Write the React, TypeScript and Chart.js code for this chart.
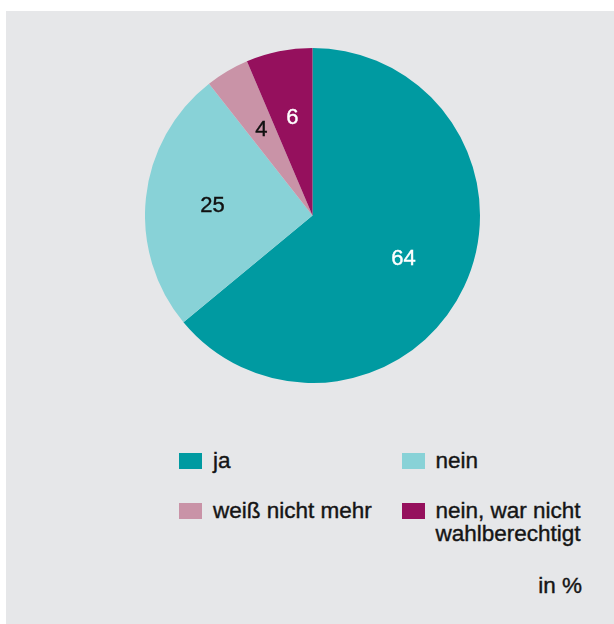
import React, { useEffect, useRef } from "react";
import { Chart, registerables } from "chart.js";

Chart.register(...registerables);

const categories = ["ja", "nein", "weiß nicht mehr", "nein, war nicht wahlberechtigt"];
const legendLabels = ["ja", "nein", "weiß nicht mehr", "nein, war nicht\nwahlberechtigt"];
const values = [64, 25.4, 4.2, 6.4];
const valueLabels = ["64", "25", "4", "6"];
const colors = ["#009aa1", "#88d2d7", "#c993a7", "#95105d"];
const valueLabelColors = ["#ffffff", "#111111", "#111111", "#ffffff"];
const unitLabel = "in %";

const FONT = "'Liberation Sans', Arial, Helvetica, sans-serif";

const sliceLabels = {
  id: "sliceLabels",
  afterDatasetsDraw(chart: any) {
    const ctx = chart.ctx;
    const meta = chart.getDatasetMeta(0);
    ctx.save();
    ctx.font = `22px ${FONT}`;
    ctx.textAlign = "center";
    ctx.textBaseline = "middle";
    ctx.lineWidth = 0.4;
    meta.data.forEach((arc: any, i: number) => {
      const p = arc.getProps(["x", "y", "startAngle", "endAngle", "outerRadius"], true);
      const mid = (p.startAngle + p.endAngle) / 2;
      const r = p.outerRadius * 0.6;
      const tx = p.x + Math.cos(mid) * r;
      const ty = p.y + Math.sin(mid) * r + 1;
      ctx.fillStyle = valueLabelColors[i];
      ctx.strokeStyle = valueLabelColors[i];
      ctx.fillText(valueLabels[i], tx, ty);
      ctx.strokeText(valueLabels[i], tx, ty);
    });
    ctx.restore();
  },
};

export default function App() {
  const canvasRef = useRef<HTMLCanvasElement | null>(null);

  useEffect(() => {
    const chart = new Chart(canvasRef.current as HTMLCanvasElement, {
      type: "pie",
      data: {
        labels: categories,
        datasets: [
          {
            data: values,
            backgroundColor: colors,
            borderWidth: 0,
          },
        ],
      },
      options: {
        responsive: false,
        animation: false,
        devicePixelRatio: 1,
        rotation: 0,
        layout: { padding: 0 },
        plugins: {
          legend: { display: false },
          tooltip: { enabled: false },
          title: { display: false },
        },
      },
      plugins: [sliceLabels],
    });
    return () => chart.destroy();
  }, []);

  const textStyle: React.CSSProperties = {
    position: "absolute",
    fontFamily: FONT,
    fontSize: 22.5,
    lineHeight: "22.5px",
    color: "#151515",
    whiteSpace: "pre-line",
    WebkitTextStroke: "0.4px #151515",
  };

  const colX = [173, 396];
  const textX = [207, 429.5];
  const rowSquareY = [442, 492];
  const rowTextY = [439.2, 489.2];

  return (
    <div
      style={{
        position: "absolute",
        left: 6,
        top: 11,
        width: 608,
        height: 613,
        background: "#e6e7e9",
        overflow: "hidden",
      }}
    >
      <canvas
        ref={canvasRef}
        width={335}
        height={335}
        style={{ position: "absolute", left: 139, top: 37, width: 335, height: 335 }}
      />
      {legendLabels.map((lab, i) => {
        const col = i % 2;
        const row = Math.floor(i / 2);
        return (
          <React.Fragment key={i}>
            <div
              style={{
                position: "absolute",
                left: colX[col],
                top: rowSquareY[row],
                width: 23,
                height: 16,
                background: colors[i],
              }}
            />
            <div style={{ ...textStyle, left: textX[col], top: rowTextY[row] }}>{lab}</div>
          </React.Fragment>
        );
      })}
      <div style={{ ...textStyle, right: 32, top: 564.2 }}>{unitLabel}</div>
    </div>
  );
}
